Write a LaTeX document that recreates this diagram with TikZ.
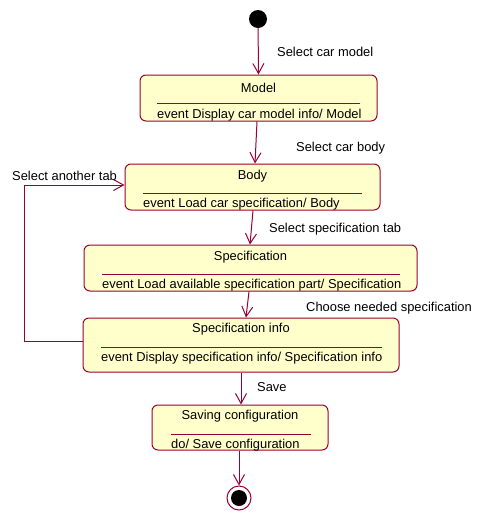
\documentclass[tikz,border=0pt]{standalone}
\usepackage{fontspec}
\setmainfont{Liberation Sans}
\usetikzlibrary{arrows.meta}
\definecolor{lc}{RGB}{153,0,51}
\definecolor{sf}{RGB}{255,255,204}
\begin{document}
\begin{tikzpicture}[x=1pt,y=-1pt,
  every node/.style={font=\fontsize{12.9}{15}\selectfont, inner sep=0pt},
  state/.style={draw=lc, fill=sf, line width=1pt, rounded corners=6pt},
  sep/.style={draw=lc, line width=1pt},
  arr/.style={draw=lc, line width=1pt, -{Straight Barb[length=10pt,width=11pt]}},
  lbl/.style={anchor=west, yshift=-1.5pt},
  ttl/.style={anchor=center, yshift=-1.5pt},
  cmp/.style={anchor=west, yshift=-1.5pt}]
\useasboundingbox (0,0) rectangle (482,528);
% initial
\node[circle, fill=black, minimum size=18pt] (init) at (258,19) {};
% states
\node[state, minimum width=237pt, minimum height=46pt] (model) at (258.5,98) {};
\node[ttl] (modelt) at (258.5,86) {Model};
\draw[sep] (157,103) -- (360,103);
\node[cmp] (modelc) at (157,114) {event Display car model info/ Model};

\node[state, minimum width=255pt, minimum height=46pt] (body) at (252.5,187) {};
\node[ttl] (bodyt) at (252.5,175) {Body};
\draw[sep] (143,193) -- (362,193);
\node[cmp] (bodyc) at (143,203) {event Load car specification/ Body};

\node[state, minimum width=333pt, minimum height=46pt] (spec) at (250.5,268) {};
\node[ttl] (spect) at (250.5,256) {Specification};
\draw[sep] (102,274) -- (400,274);
\node[cmp] (specc) at (102,284) {event Load available specification part/ Specification};

\node[state, minimum width=316pt, minimum height=54pt] (info) at (241,345) {};
\node[ttl] (infot) at (241,328) {Specification info};
\draw[sep] (101,347) -- (382,347);
\node[cmp] (infoc) at (101,357) {event Display specification info/ Specification info};

\node[state, minimum width=176pt, minimum height=45pt] (save) at (240,427.5) {};
\node[ttl] (savet) at (240,415) {Saving configuration};
\draw[sep] (171,434) -- (311,434);
\node[cmp] (savec) at (171,444) {do/ Save configuration};

% final
\node[circle, draw=lc, line width=1pt, fill=white, minimum size=24pt] (fin) at (239,498) {};
\node[circle, fill=black, minimum size=16pt] (finin) at (239,498) {};

% transitions
\draw[arr] (init) -- (model.north);
\draw[arr] ([xshift=-1.5pt]model.south) -- ([xshift=2.5pt]body.north);
\draw[arr] ([xshift=0.5pt]body.south) -- ([xshift=-0.5pt]spec.north);
\draw[arr] ([xshift=-1.5pt]spec.south) -- ([xshift=5pt]info.north);
\draw[arr] (info.south) -- ([xshift=1pt]save.north);
\draw[arr] ([xshift=-1pt]save.south) -- (fin);
\draw[arr] ([yshift=4pt]info.west) -- ++(-58,0) |- ([yshift=2pt]body.west);

% labels
\node[lbl] (l1) at (277,50) {Select car model};
\node[lbl] (l2) at (296,147) {Select car body};
\node[lbl] (l3) at (269,228) {Select specification tab};
\node[lbl] (l4) at (306,307) {Choose needed specification};
\node[lbl] (l5) at (12,174) {Select another tab};
\node[lbl] (l6) at (257,386) {Save};
\end{tikzpicture}
\end{document}
